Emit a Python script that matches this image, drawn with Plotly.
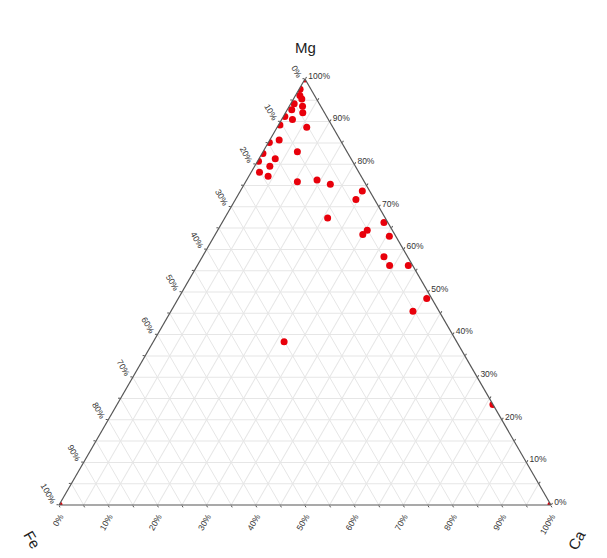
import plotly.graph_objects as go

# Composition of each sample, in percent (Mg + Fe + Ca = 100)
mg = [100.0, 0.0, 0.0,
      97.6, 96.1, 95.3, 94.2, 93.6, 92.8, 92.1, 91.2, 90.5, 88.7, 89.2,
      85.7, 85.1, 82.9, 82.5, 81.3, 80.7, 79.5, 78.1, 77.2, 75.9, 76.3,
      75.3, 73.7, 71.7, 67.4, 66.3, 64.5, 63.5, 63.1, 58.3, 56.2, 56.2,
      48.5, 45.5, 38.3, 23.6]
fe = [0.0, 100.0, 0.0,
      2.2, 3.0, 3.0, 5.1, 3.7, 6.3, 4.4, 8.5, 7.3, 5.3, 10.5,
      12.4, 14.7, 10.1, 17.3, 15.4, 19.1, 17.4, 20.2, 18.9, 13.6, 9.4,
      7.2, 1.5, 3.8, 11.7, 0.8, 5.1, 6.5, 1.3, 4.8, 4.7, 0.9,
      1.0, 5.3, 35.1, 0.0]
ca = [0.0, 0.0, 100.0,
      0.2, 0.9, 1.7, 0.7, 2.7, 0.9, 3.5, 0.3, 2.2, 6.0, 0.3,
      1.9, 0.2, 7.0, 0.2, 3.3, 0.2, 3.1, 1.7, 3.9, 10.5, 14.3,
      17.5, 24.8, 24.5, 20.9, 32.9, 30.4, 30.0, 35.6, 36.9, 39.1, 42.9,
      50.5, 49.2, 26.6, 76.4]

# Grid every 5 %, labels every 10 %; each edge is labelled with the
# share of the component that grows along it (counter-clockwise reading)
grid_vals = list(range(0, 101, 5))
edge_labels = [f"{100 - v}%" if v % 10 == 0 else "" for v in grid_vals]

axis_style = dict(
    min=0,
    tickmode="array",
    tickvals=grid_vals,
    ticktext=edge_labels,
    showgrid=True,
    gridcolor="#e6e6e6",
    gridwidth=1,
    showline=True,
    linecolor="#555555",
    linewidth=1.2,
    ticks="outside",
    ticklen=2,
    tickcolor="#555555",
    tickfont=dict(family="Liberation Sans, Arial, sans-serif", size=8.5, color="#333333"),
    title=dict(text=""),
)

fig = go.Figure()
fig.add_trace(go.Scatterternary(
    a=mg, b=fe, c=ca,
    mode="markers",
    marker=dict(color="#e8000b", size=7, line=dict(width=0)),
    cliponaxis=True,
    showlegend=False,
    hovertemplate="Mg %{a}%<br>Fe %{b}%<br>Ca %{c}%<extra></extra>",
))

fig.update_layout(
    width=607,
    height=558,
    margin=dict(l=59, r=56, t=79, b=53),
    paper_bgcolor="white",
    ternary=dict(
        sum=100,
        bgcolor="white",
        aaxis=dict(axis_style, tickangle=60),
        baxis=dict(axis_style, tickangle=-60),
        caxis=dict(axis_style, tickangle=0),
    ),
    font=dict(family="Liberation Sans, Arial, sans-serif"),
)

# Corner titles
title_font = dict(family="Liberation Sans, Arial, sans-serif", size=15, color="#222222")
for text, x, y, angle in [("Mg", 0.502, 1.075, 0), ("Fe", -0.055, -0.082, 60), ("Ca", 1.053, -0.082, -60)]:
    fig.add_annotation(text=text, x=x, y=y, xref="paper", yref="paper",
                       xanchor="center", yanchor="middle",
                       showarrow=False, textangle=angle, font=title_font)

fig.write_html("out.html")
